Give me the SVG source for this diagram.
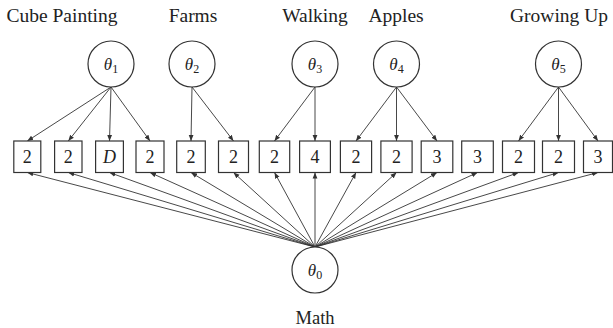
<svg xmlns="http://www.w3.org/2000/svg" width="613" height="328" viewBox="0 0 613 328">
<defs>
<marker id="ah" viewBox="0 0 10 10" refX="10" refY="5" markerWidth="6" markerHeight="6" orient="auto" markerUnits="userSpaceOnUse">
<path d="M0,1 L10,5 L0,9 z" fill="#333"/>
</marker>
<style>
.lbl{font-family:"Liberation Serif","DejaVu Serif",serif;font-size:19.5px;fill:#222;text-anchor:middle}
.th{font-family:"Liberation Serif","DejaVu Serif",serif;font-size:17px;font-style:italic;fill:#222;text-anchor:middle}
.sub{font-size:12px;font-style:normal}
.num{font-family:"Liberation Serif","DejaVu Serif",serif;font-size:18px;fill:#222;text-anchor:middle}
.circ{fill:#fff;stroke:#333;stroke-width:1.2}
.box{fill:#fff;stroke:#333;stroke-width:1.2}
.edge{stroke:#333;stroke-width:0.9;fill:none;marker-end:url(#ah)}
</style>
</defs>
<rect width="613" height="328" fill="#fff"/>
<g id="labels">
<text class="lbl" x="62" y="22">Cube Painting</text>
<text class="lbl" x="193" y="22">Farms</text>
<text class="lbl" x="315" y="22">Walking</text>
<text class="lbl" x="396" y="22">Apples</text>
<text class="lbl" x="559" y="22">Growing Up</text>
<text class="lbl" x="315" y="324" style="font-size:18.5px">Math</text>
</g>
<g id="connectors">
<!-- theta1 -->
<line class="edge" x1="111" y1="87" x2="27.3" y2="141"/>
<line class="edge" x1="111" y1="87" x2="68.3" y2="141"/>
<line class="edge" x1="111" y1="87" x2="109.5" y2="141"/>
<line class="edge" x1="111" y1="87" x2="150" y2="141"/>
<!-- theta2 -->
<line class="edge" x1="192" y1="87" x2="191" y2="141"/>
<line class="edge" x1="192" y1="87" x2="233.5" y2="141"/>
<!-- theta3 -->
<line class="edge" x1="315" y1="87" x2="274.5" y2="141"/>
<line class="edge" x1="315" y1="87" x2="315" y2="141"/>
<!-- theta4 -->
<line class="edge" x1="396.5" y1="87" x2="356" y2="141"/>
<line class="edge" x1="396.5" y1="87" x2="396.5" y2="141"/>
<line class="edge" x1="396.5" y1="87" x2="437" y2="141"/>
<!-- theta5 -->
<line class="edge" x1="558.5" y1="87" x2="518.5" y2="141"/>
<line class="edge" x1="558.5" y1="87" x2="558.5" y2="141"/>
<line class="edge" x1="558.5" y1="87" x2="598" y2="141"/>
<!-- theta0 -->
<line class="edge" x1="315" y1="247" x2="27.3" y2="172.5"/>
<line class="edge" x1="315" y1="247" x2="68.3" y2="172.5"/>
<line class="edge" x1="315" y1="247" x2="109.5" y2="172.5"/>
<line class="edge" x1="315" y1="247" x2="150" y2="172.5"/>
<line class="edge" x1="315" y1="247" x2="191" y2="172.5"/>
<line class="edge" x1="315" y1="247" x2="233.5" y2="172.5"/>
<line class="edge" x1="315" y1="247" x2="274.5" y2="172.5"/>
<line class="edge" x1="315" y1="247" x2="315" y2="172.5"/>
<line class="edge" x1="315" y1="247" x2="356" y2="172.5"/>
<line class="edge" x1="315" y1="247" x2="396.5" y2="172.5"/>
<line class="edge" x1="315" y1="247" x2="437" y2="172.5"/>
<line class="edge" x1="315" y1="247" x2="477.5" y2="172.5"/>
<line class="edge" x1="315" y1="247" x2="518.5" y2="172.5"/>
<line class="edge" x1="315" y1="247" x2="558.5" y2="172.5"/>
<line class="edge" x1="315" y1="247" x2="598" y2="172.5"/>
</g>
<g id="theta1"><circle class="circ" cx="111" cy="64" r="23"/><text class="th" x="111" y="70">θ<tspan class="sub" dy="3">1</tspan></text></g>
<g id="theta2"><circle class="circ" cx="192" cy="64" r="23"/><text class="th" x="192" y="70">θ<tspan class="sub" dy="3">2</tspan></text></g>
<g id="theta3"><circle class="circ" cx="315" cy="64" r="23"/><text class="th" x="315" y="70">θ<tspan class="sub" dy="3">3</tspan></text></g>
<g id="theta4"><circle class="circ" cx="396.5" cy="64" r="23"/><text class="th" x="396.5" y="70">θ<tspan class="sub" dy="3">4</tspan></text></g>
<g id="theta5"><circle class="circ" cx="558.5" cy="64" r="23"/><text class="th" x="558.5" y="70">θ<tspan class="sub" dy="3">5</tspan></text></g>
<g id="theta0"><circle class="circ" cx="315" cy="270" r="23"/><text class="th" x="315" y="276">θ<tspan class="sub" dy="3">0</tspan></text></g>
<g id="item1"><rect class="box" x="13.8" y="141" width="27" height="31.5"/><text class="num" x="27.3" y="163">2</text></g>
<g id="item2"><rect class="box" x="54.6" y="141" width="27.4" height="31.5"/><text class="num" x="68.3" y="163">2</text></g>
<g id="item3"><rect class="box" x="95.6" y="141" width="27.8" height="31.5"/><text class="num" x="109.5" y="163" font-style="italic">D</text></g>
<g id="item4"><rect class="box" x="136" y="141" width="28" height="31.5"/><text class="num" x="150" y="163">2</text></g>
<g id="item5"><rect class="box" x="176.7" y="141" width="28.6" height="31.5"/><text class="num" x="191" y="163">2</text></g>
<g id="item6"><rect class="box" x="218.5" y="141" width="30" height="31.5"/><text class="num" x="233.5" y="163">2</text></g>
<g id="item7"><rect class="box" x="259.3" y="141" width="30.4" height="31.5"/><text class="num" x="274.5" y="163">2</text></g>
<g id="item8"><rect class="box" x="299.6" y="141" width="30.8" height="31.5"/><text class="num" x="315" y="163">4</text></g>
<g id="item9"><rect class="box" x="340.4" y="141" width="31.2" height="31.5"/><text class="num" x="356" y="163">2</text></g>
<g id="item10"><rect class="box" x="380.9" y="141" width="31.2" height="31.5"/><text class="num" x="396.5" y="163">2</text></g>
<g id="item11"><rect class="box" x="421.2" y="141" width="31.6" height="31.5"/><text class="num" x="437" y="163">3</text></g>
<g id="item12"><rect class="box" x="461.7" y="141" width="31.6" height="31.5"/><text class="num" x="477.5" y="163">3</text></g>
<g id="item13"><rect class="box" x="502.5" y="141" width="32" height="31.5"/><text class="num" x="518.5" y="163">2</text></g>
<g id="item14"><rect class="box" x="542.5" y="141" width="32" height="31.5"/><text class="num" x="558.5" y="163">2</text></g>
<g id="item15"><rect class="box" x="583.5" y="141" width="29" height="31.5"/><text class="num" x="598" y="163">3</text></g>
</svg>
